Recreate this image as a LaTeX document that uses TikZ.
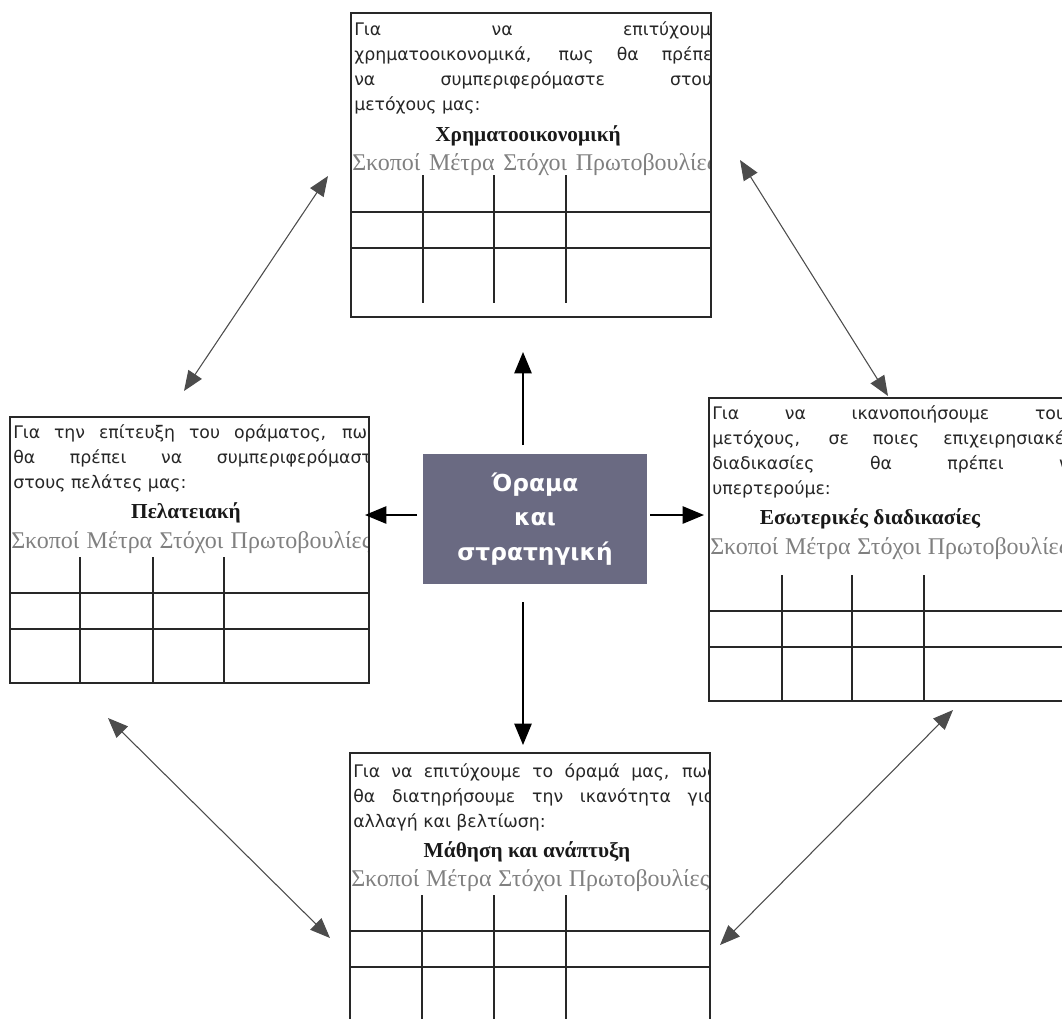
\documentclass[tikz,border=0pt]{standalone}
\usepackage{fontspec}
\setmainfont{Liberation Serif}
\newfontfamily\bodyfont{DejaVu Sans}
\usetikzlibrary{arrows.meta,fit}

\definecolor{visionfill}{RGB}{106,106,130}
\definecolor{inkline}{RGB}{40,40,40}
\definecolor{colhead}{RGB}{128,128,128}

% stretch the words of one line over a width given in pixels
\newcommand\spreadpx[2]{\makebox[\dimexpr 0.75pt*#1\relax][s]{#2}}

\tikzset{
  x=0.75pt, y=-0.75pt,
  panel/.style={draw=inkline, line width=1.3pt, inner sep=0pt},
  gridline/.style={draw=inkline, line width=1.2pt},
  body/.style={anchor=west, inner sep=0pt, text=black!85,
    font=\bodyfont\fontsize{13}{15}\selectfont},
  heading/.style={anchor=center, inner sep=0pt, text=black!90,
    font=\bfseries\fontsize{16}{18}\selectfont},
  colnames/.style={anchor=west, inner sep=0pt, text=colhead,
    font=\fontsize{18}{20}\selectfont},
  vision/.style={fill=visionfill, text=white, align=center, inner sep=0pt,
    font=\bodyfont\bfseries\fontsize{17.5}{26}\selectfont},
  link/.style={draw=black!70, line width=0.8pt,
    {Triangle[length=15pt,width=12pt]}-{Triangle[length=15pt,width=12pt]}},
  spoke/.style={draw=black, line width=1.1pt,
    -{Triangle[length=16pt,width=13pt]}}
}

\begin{document}
\begin{tikzpicture}
\useasboundingbox (0,0) rectangle (1062,1018);

% ---------- Financial perspective (top) ----------
\begin{scope}
  \clip (351,13) rectangle (711,317);
  \node[body] (fin1) at (354,30) {\spreadpx{366}{Για να επιτύχουμε}};
  \node[body] (fin2) at (354,55) {\spreadpx{364}{χρηματοοικονομικά, πως θα πρέπει}};
  \node[body] (fin3) at (354,80) {\spreadpx{368}{να συμπεριφερόμαστε στους}};
  \node[body] (fin4) at (354,105) {μετόχους μας:};
  \node[heading] (finT) at (528,136) {Χρηματοοικονομική};
  \node[colnames] (finC) at (352,165) {\spreadpx{364}{Σκοποί Μέτρα Στόχοι Πρωτοβουλίες}};
\end{scope}
\node[panel, fit={(351,13)(711,317)}] (fin) {};
\draw[gridline] (351,212) -- (711,212) (351,248) -- (711,248);
\draw[gridline] (423,175) -- (423,303) (494,175) -- (494,303) (566,175) -- (566,303);

% ---------- Customer perspective (left) ----------
\begin{scope}
  \clip (10,417) rectangle (369,683);
  \node[body] (cus1) at (13,433) {\spreadpx{364}{Για την επίτευξη του οράματος, πως}};
  \node[body] (cus2) at (13,458) {\spreadpx{368}{θα πρέπει να συμπεριφερόμαστε}};
  \node[body] (cus3) at (13,483) {στους πελάτες μας:};
  \node[heading] (cusT) at (186,513) {Πελατειακή};
  \node[colnames] (cusC) at (11,543) {\spreadpx{360}{Σκοποί Μέτρα Στόχοι Πρωτοβουλίες}};
\end{scope}
\node[panel, fit={(10,417)(369,683)}] (cus) {};
\draw[gridline] (10,593) -- (369,593) (10,629) -- (369,629);
\draw[gridline] (80,557) -- (80,683) (153,557) -- (153,683) (224,557) -- (224,683);

% ---------- Internal processes (right) ----------
\begin{scope}
  \clip (709,398) rectangle (1062,701);
  \node[body] (int1) at (712,414) {\spreadpx{364}{Για να ικανοποιήσουμε τους}};
  \node[body] (int2) at (712,439) {\spreadpx{362}{μετόχους, σε ποιες επιχειρησιακές}};
  \node[body] (int3) at (712,464) {\spreadpx{368}{διαδικασίες θα πρέπει να}};
  \node[body] (int4) at (712,489) {υπερτερούμε:};
  \node[heading] (intT) at (870,519) {Εσωτερικές διαδικασίες};
  \node[colnames] (intC) at (710,549) {\spreadpx{358}{Σκοποί Μέτρα Στόχοι Πρωτοβουλίες}};
\end{scope}
\node[panel, fit={(709,398)(1075,701)}] (int) {};
\draw[gridline] (709,611) -- (1075,611) (709,647) -- (1075,647);
\draw[gridline] (782,575) -- (782,701) (852,575) -- (852,701) (924,575) -- (924,701);

% ---------- Learning and growth (bottom) ----------
\begin{scope}
  \clip (350,753) rectangle (710,1018);
  \node[body] (lrn1) at (353,772) {\spreadpx{364}{Για να επιτύχουμε το όραμά μας, πως}};
  \node[body] (lrn2) at (353,797) {\spreadpx{362}{θα διατηρήσουμε την ικανότητα για}};
  \node[body] (lrn3) at (353,822) {αλλαγή και βελτίωση:};
  \node[heading] (lrnT) at (527,852) {Μάθηση και ανάπτυξη};
  \node[colnames] (lrnC) at (351,881) {\spreadpx{358}{Σκοποί Μέτρα Στόχοι Πρωτοβουλίες}};
\end{scope}
\node[panel, fit={(350,753)(710,1030)}] (lrn) {};
\draw[gridline] (350,931) -- (710,931) (350,967) -- (710,967);
\draw[gridline] (422,895) -- (422,1030) (494,895) -- (494,1030) (566,895) -- (566,1030);

% ---------- Vision and strategy (centre) ----------
\node[vision, minimum width=168pt, minimum height=97.5pt] (vis) at (535,519)
  {Όραμα\\και\\στρατηγική};

% spoke ends
\coordinate (upS) at (523,445);   \coordinate (upE) at (523,352);
\coordinate (dnS) at (523,602);   \coordinate (dnE) at (523,745);
\coordinate (lfS) at (417,515);   \coordinate (lfE) at (365,515);
\coordinate (rtS) at (650,515);   \coordinate (rtE) at (704,515);
\draw[spoke] (upS) -- (upE);
\draw[spoke] (dnS) -- (dnE);
\draw[spoke] (lfS) -- (lfE);
\draw[spoke] (rtS) -- (rtE);

% links between neighbouring perspectives
\coordinate (tlA) at (328,176);  \coordinate (tlB) at (184,391);
\coordinate (trA) at (740,160);  \coordinate (trB) at (888,396);
\coordinate (blA) at (108,718);  \coordinate (blB) at (330,938);
\coordinate (brA) at (953,710);  \coordinate (brB) at (720,945);
\draw[link] (tlA) -- (tlB);
\draw[link] (trA) -- (trB);
\draw[link] (blA) -- (blB);
\draw[link] (brA) -- (brB);
\end{tikzpicture}
\end{document}
